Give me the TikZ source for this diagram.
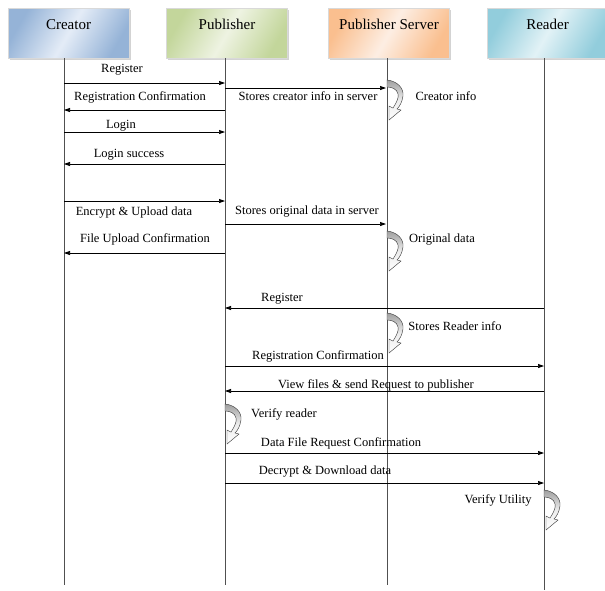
\documentclass[tikz,border=0pt]{standalone}
\usepackage{fontspec}
\setmainfont{Liberation Serif}
\usetikzlibrary{arrows.meta,shadows}
\definecolor{crdark}{HTML}{95B3D7}
\definecolor{crlight}{HTML}{E4ECF7}
\definecolor{pbdark}{HTML}{C3D69B}
\definecolor{pblight}{HTML}{EEF3E2}
\definecolor{svdark}{HTML}{FABF8F}
\definecolor{svlight}{HTML}{FDEEE3}
\definecolor{rddark}{HTML}{92CDDC}
\definecolor{rdlight}{HTML}{E2F2F6}
\definecolor{lifegray}{HTML}{505050}
\tikzset{
  actorbox/.style={rectangle, draw=black!15, line width=0.4pt, minimum width=121pt, minimum height=50pt,
    inner sep=0pt, text height=10pt, text depth=18pt, font=\fontsize{15}{18}\selectfont,
    drop shadow={shadow xshift=1.5pt, shadow yshift=-1.5pt, opacity=0.35}},
  lifeline/.style={draw=lifegray, line width=0.9pt},
  msgarrow/.style={draw=black, line width=0.7pt, -{Triangle[length=6pt,width=4pt]}},
  lbl/.style={anchor=base, inner sep=0pt, font=\fontsize{12.5}{14}\selectfont},
  selfloop/.pic={
    \path[draw=black!75, line width=0.45pt, top color=gray!75, bottom color=white, middle color=gray!15]
      (0,0) .. controls (10,1) and (17,8) .. (16,16)
      .. controls (15,22) and (13,26) .. (10,29) -- (14,30) -- (2,40) -- (2,26) -- (6,28)
      .. controls (10,22) and (12,17) .. (11,14)
      .. controls (10,9) and (5,7) .. (0,7) -- cycle;
  }
}
\newcommand\msgline[4]{\coordinate (#1a) at (#2,#4); \coordinate (#1b) at (#3,#4); \draw[msgarrow] (#1a) -- (#1b);}
\begin{document}
\begin{tikzpicture}[x=1pt,y=-1pt]
\useasboundingbox (0,0) rectangle (605,590);
% actor boxes
\node[actorbox, top color=crdark, bottom color=crdark, middle color=crlight, shading angle=60] (creator) at (68.5,33) {Creator};
\node[actorbox, top color=pbdark, bottom color=pbdark, middle color=pblight, shading angle=60] (publisher) at (227,33) {Publisher};
\node[actorbox, top color=svdark, bottom color=svdark, middle color=svlight, shading angle=60] (server) at (389,33) {Publisher Server};
\node[actorbox, top color=rddark, bottom color=rddark, middle color=rdlight, shading angle=60] (reader) at (547.5,33) {Reader};
% lifelines
\coordinate (Ct) at (64,58);  \coordinate (Cb) at (64,585);
\coordinate (Pt) at (225,58); \coordinate (Pb) at (225,585);
\coordinate (St) at (387,58); \coordinate (Sb) at (387,585);
\coordinate (Rt) at (544,58); \coordinate (Rb) at (544,590);
\draw[lifeline] (Ct) -- (Cb);
\draw[lifeline] (Pt) -- (Pb);
\draw[lifeline] (St) -- (Sb);
\draw[lifeline] (Rt) -- (Rb);
% messages
\msgline{m1}{64}{225}{83}
\node[lbl] (l1) at (122,72) {Register};
\msgline{m2}{225}{386}{88}
\node[lbl] (l2) at (308,100) {Stores creator info in server};
\pic at (387,80) {selfloop};
\node[lbl] (l3) at (446,100) {Creator info};
\msgline{m3}{225}{64}{110}
\node[lbl] (l4) at (140,100) {Registration Confirmation};
\msgline{m4}{64}{225}{132}
\node[lbl] (l5) at (121,128) {Login};
\msgline{m5}{225}{64}{164}
\node[lbl] (l6) at (129,157) {Login success};
\msgline{m6}{64}{225}{201}
\node[lbl] (l7) at (134,215) {Encrypt \& Upload data};
\msgline{m7}{225}{386}{224}
\node[lbl] (l8) at (307,214) {Stores original data in server};
\msgline{m8}{225}{64}{253}
\node[lbl] (l9) at (145,242) {File Upload Confirmation};
\pic at (387,231) {selfloop};
\node[lbl] (l10) at (442,242) {Original data};
\msgline{m9}{544}{225}{308}
\node[lbl] (l11) at (282,301) {Register};
\pic at (387,313) {selfloop};
\node[lbl] (l12) at (455,330) {Stores Reader info};
\msgline{m10}{225}{544}{366}
\node[lbl] (l13) at (318,359) {Registration Confirmation};
\msgline{m11}{544}{225}{391}
\node[lbl] (l14) at (376,388) {View files \& send Request to publisher};
\pic at (225,404) {selfloop};
\node[lbl] (l15) at (284,417) {Verify reader};
\msgline{m12}{225}{544}{453}
\node[lbl] (l16) at (341,446) {Data File Request Confirmation};
\msgline{m13}{225}{544}{483}
\node[lbl] (l17) at (325,474) {Decrypt \& Download data};
\pic at (544,490) {selfloop};
\node[lbl] (l18) at (498,503) {Verify Utility};
\end{tikzpicture}
\end{document}
